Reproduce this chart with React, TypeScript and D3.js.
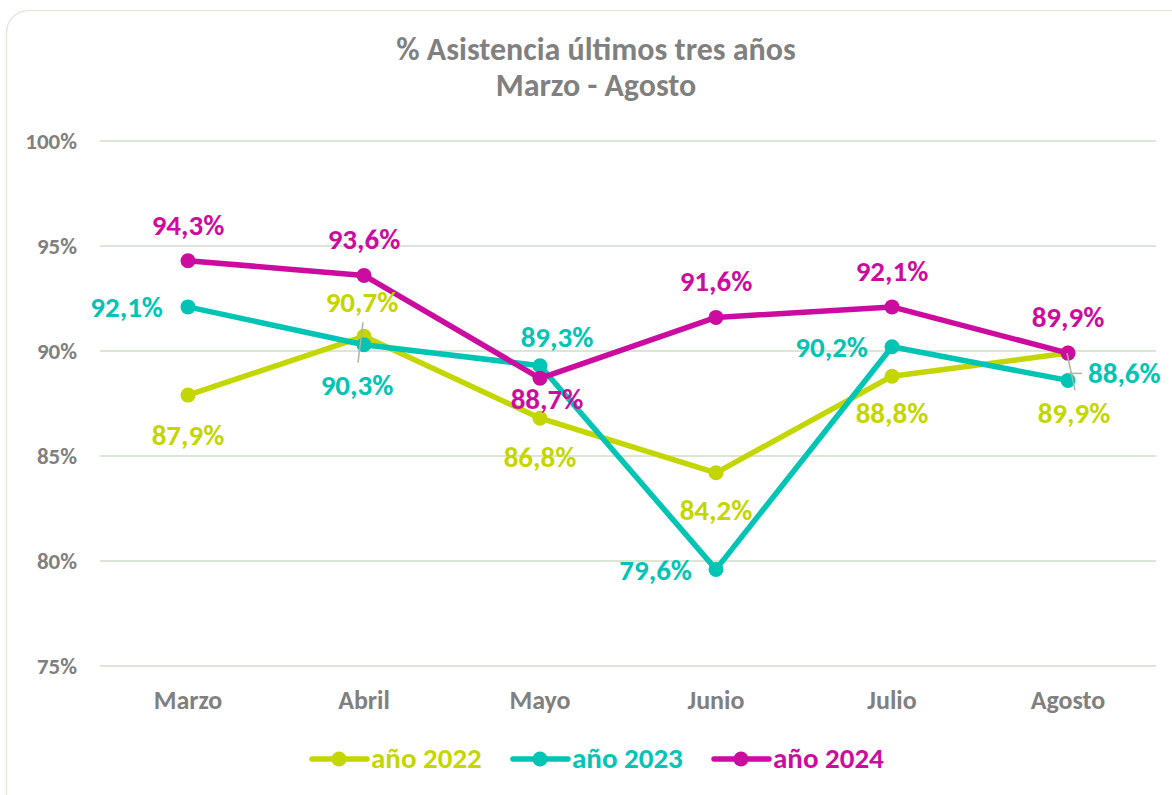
import React from "react";
import * as d3 from "d3";

const months = ["Marzo", "Abril", "Mayo", "Junio", "Julio", "Agosto"];
const values2022 = [87.9, 90.7, 86.8, 84.2, 88.8, 89.9];
const values2023 = [92.1, 90.3, 89.3, 79.6, 90.2, 88.6];
const values2024 = [94.3, 93.6, 88.7, 91.6, 92.1, 89.9];
const seriesNames = ["año 2022", "año 2023", "año 2024"];
const yTicks = [75, 80, 85, 90, 95, 100];

type Off = [number, number, "start" | "middle" | "end"];
// label placement relative to the point: dx, baseline dy, anchor
const offs2022: Off[] = [[0, 50, "middle"], [-2, -24, "middle"], [0, 49, "middle"], [0, 47, "middle"], [0, 47, "middle"], [6, 70, "middle"]];
const offs2023: Off[] = [[-25, 10, "end"], [-7, 50, "middle"], [17, -19, "middle"], [-24, 11, "end"], [-24, 10, "end"], [20, 3, "start"]];
const offs2024: Off[] = [[0, -26, "middle"], [0, -26, "middle"], [7, 31, "middle"], [0, -26, "middle"], [0, -26, "middle"], [0, -26, "middle"]];

const colors = ["#C4D600", "#00C4B4", "#CC0C9F"];
const FONT = "Carlito, Calibri, Lato, 'Open Sans', sans-serif";
const GRAY = "#808080";

export default function App() {
  const W = 1172, H = 795;
  const x = d3.scalePoint<string>().domain(months).range([188, 1068]);
  const y = d3.scaleLinear().domain([75, 100]).range([666, 141]);
  const line = d3.line<number>().x((_, i) => x(months[i])!).y((d) => y(d));
  const all = [values2022, values2023, values2024];
  const offs = [offs2022, offs2023, offs2024];
  const fmt = (v: number) => v.toFixed(1).replace(".", ",") + "%";
  const legendX = [312, 513, 714];
  const order = [0, 1, 2];
  const xa = x("Abril")!, xg = x("Agosto")!;

  return (
    <svg width={W} height={H} style={{ position: "absolute", left: 0, top: 0, display: "block", background: "#fff" }} fontFamily={FONT} fontWeight="bold">
      <rect x={6.5} y={10.5} width={1190} height={810} rx={22} fill="#fff" stroke="#E3EADB" strokeWidth={1.5} />
      <text x={596} y={60} textAnchor="middle" fontSize={32} fill={GRAY}>% Asistencia últimos tres años</text>
      <text x={596} y={96} textAnchor="middle" fontSize={32} fill={GRAY}>Marzo - Agosto</text>
      {yTicks.map((t) => (
        <g key={t}>
          <line x1={100} x2={1156} y1={y(t)} y2={y(t)} stroke="#DDE6D6" strokeWidth={2} />
          <text x={77} y={y(t) + 8} textAnchor="end" fontSize={23} fill={GRAY}>{t}%</text>
        </g>
      ))}
      {months.map((m) => (
        <text key={m} x={x(m)} y={709} textAnchor="middle" fontSize={26} fill={GRAY}>{m}</text>
      ))}
      {order.map((s) => (
        <g key={s}>
          <path d={line(all[s])!} fill="none" stroke={colors[s]} strokeWidth={5.5} strokeLinejoin="round" />
          {all[s].map((v, i) => (
            <circle key={i} cx={x(months[i])} cy={y(v)} r={7.5} fill={colors[s]} />
          ))}
        </g>
      ))}
      {/* leader lines */}
      <line x1={xa - 1} y1={y(values2022[1]) - 14} x2={xa - 6} y2={y(values2023[1]) + 18} stroke="#A8B6A2" strokeWidth={1.5} />
      <line x1={xg - 1} y1={y(values2022[5])} x2={xg + 7} y2={y(values2022[5]) + 37} stroke="#A8B6A2" strokeWidth={1.5} />
      <line x1={xg} y1={y(values2023[5]) - 7} x2={xg + 14} y2={y(values2023[5]) - 7} stroke="#A8B6A2" strokeWidth={1.5} />
      {order.map((s) =>
        all[s].map((v, i) => (
          <text key={`${s}-${i}`} x={x(months[i])! + offs[s][i][0]} y={y(v) + offs[s][i][1]} textAnchor={offs[s][i][2]} fontSize={29} fill={colors[s]}>
            {fmt(v)}
          </text>
        ))
      )}
      {seriesNames.map((n, s) => (
        <g key={n}>
          <line x1={legendX[s]} x2={legendX[s] + 55} y1={759} y2={759} stroke={colors[s]} strokeWidth={5.5} strokeLinecap="round" />
          <circle cx={legendX[s] + 27} cy={759} r={7.5} fill={colors[s]} />
          <text x={legendX[s] + 59} y={768} fontSize={29} fill={colors[s]}>{n}</text>
        </g>
      ))}
    </svg>
  );
}
